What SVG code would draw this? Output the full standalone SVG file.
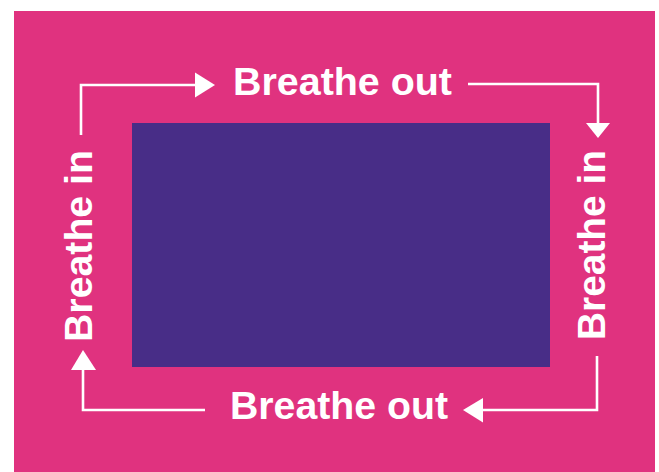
<svg xmlns="http://www.w3.org/2000/svg" width="659" height="472" viewBox="0 0 659 472">
<defs>
<style>
.lbl{font-family:"Liberation Sans",Arial,sans-serif;font-weight:bold;font-size:39px;fill:#fff;text-anchor:middle}
.con{fill:none;stroke:#fff;stroke-width:2.6}
.head{fill:#fff}
</style>
</defs>
<rect x="0" y="0" width="659" height="472" fill="#fff"/>
<rect id="background" x="14" y="11" width="641" height="461" fill="#E0327F"/>
<g id="center-box"><rect x="132" y="123" width="418" height="244" fill="#482D87"/></g>
<g id="connectors">
<polyline class="con" points="81,135 81,85 197,85"/>
<polygon class="head" points="195,72.5 215,85 195,97.5"/>
<polyline class="con" points="468,84 598,84 598,125"/>
<polygon class="head" points="586,123 610,123 598,138"/>
<polyline class="con" points="597,356 597,410 481,410"/>
<polygon class="head" points="483,398 483,422.5 463,410"/>
<polyline class="con" points="205,410 83,410 83,368"/>
<polygon class="head" points="71,370 96,370 83,350"/>
</g>
<g id="label-top"><text class="lbl" x="342.5" y="94.5" textLength="219" lengthAdjust="spacingAndGlyphs">Breathe out</text></g>
<g id="label-right"><text class="lbl" transform="translate(605,245) rotate(-90)" x="0" y="0" textLength="190" lengthAdjust="spacingAndGlyphs">Breathe in</text></g>
<g id="label-bottom"><text class="lbl" x="339" y="418.5" textLength="218" lengthAdjust="spacingAndGlyphs">Breathe out</text></g>
<g id="label-left"><text class="lbl" transform="translate(92,246) rotate(-90)" x="0" y="0" textLength="192" lengthAdjust="spacingAndGlyphs">Breathe in</text></g>
</svg>
